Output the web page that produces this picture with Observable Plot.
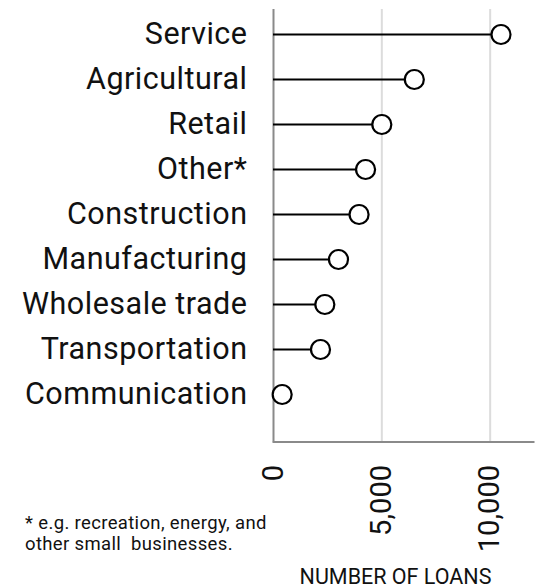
<!DOCTYPE html>
<html>
<head>
<meta charset="utf-8">
<script src="https://cdn.jsdelivr.net/npm/d3@7"></script>
<script src="https://cdn.jsdelivr.net/npm/@observablehq/plot@0.6"></script>
<style>
  body { margin: 0; background: #fff; }
  #wrap { position: relative; width: 537px; height: 588px; font-family: Roboto, "Noto Sans", sans-serif; color: #111; }
  #note { position: absolute; left: 25px; top: 513px; font-size: 18.5px; line-height: 20.5px; letter-spacing: 0.35px; font-weight: 400; color: #111; white-space: pre; }
  #chart svg text { font-weight: 400; }
  .ylab text { letter-spacing: 0.5px; }
</style>
</head>
<body>
<div id="wrap">
  <div id="chart"></div>
  <div id="note">* e.g. recreation, energy, and
other small  businesses.</div>
</div>
<script>
const categories = ["Service", "Agricultural", "Retail", "Other*", "Construction", "Manufacturing", "Wholesale trade", "Transportation", "Communication"];
const loans = [10500, 6500, 5000, 4250, 3950, 3000, 2370, 2170, 400];
const xTicks = [0, 5000, 10000];
const gridTicks = [5000, 10000];
const axisTitle = "NUMBER OF LOANS";

const data = categories.map((c, i) => ({category: c, value: loans[i]}));

const chart = Plot.plot({
  width: 537,
  height: 588,
  marginLeft: 273,
  marginRight: 4,
  marginTop: 9,
  marginBottom: 146.5,
  style: {fontFamily: "Roboto, 'Noto Sans', sans-serif", color: "#111", background: "#fff"},
  x: {domain: [0, 12000]},
  y: {type: "point", domain: categories, padding: 0, insetTop: 23, insetBottom: 45.5},
  marks: [
    Plot.ruleX(gridTicks, {stroke: "#dcdcdc", strokeWidth: 2}),
    Plot.ruleX([0], {stroke: "#8a8a8a", strokeWidth: 2}),
    Plot.frame({anchor: "bottom", stroke: "#8a8a8a", strokeWidth: 2}),
    Plot.ruleY(data, {y: "category", x1: 0, x2: "value", stroke: "#000", strokeWidth: 2}),
    Plot.dot(data, {y: "category", x: "value", r: 9.5, fill: "#fff", stroke: "#000", strokeWidth: 2.2}),
    Plot.axisY({tickSize: 0, tickPadding: 26, fontSize: 30.5, label: null, className: "ylab"}),
    Plot.axisX({ticks: xTicks, tickFormat: d3.format(","), tickRotate: -90, tickSize: 0, tickPadding: 23, fontSize: 29, label: null}),
    Plot.text([axisTitle], {frameAnchor: "bottom", text: d => d, dy: 142, dx: -8, fontSize: 21.5, lineAnchor: "bottom", fill: "#111", style: {letterSpacing: "0.3px"}})
  ]
});
document.getElementById("chart").appendChild(chart);
</script>
</body>
</html>
